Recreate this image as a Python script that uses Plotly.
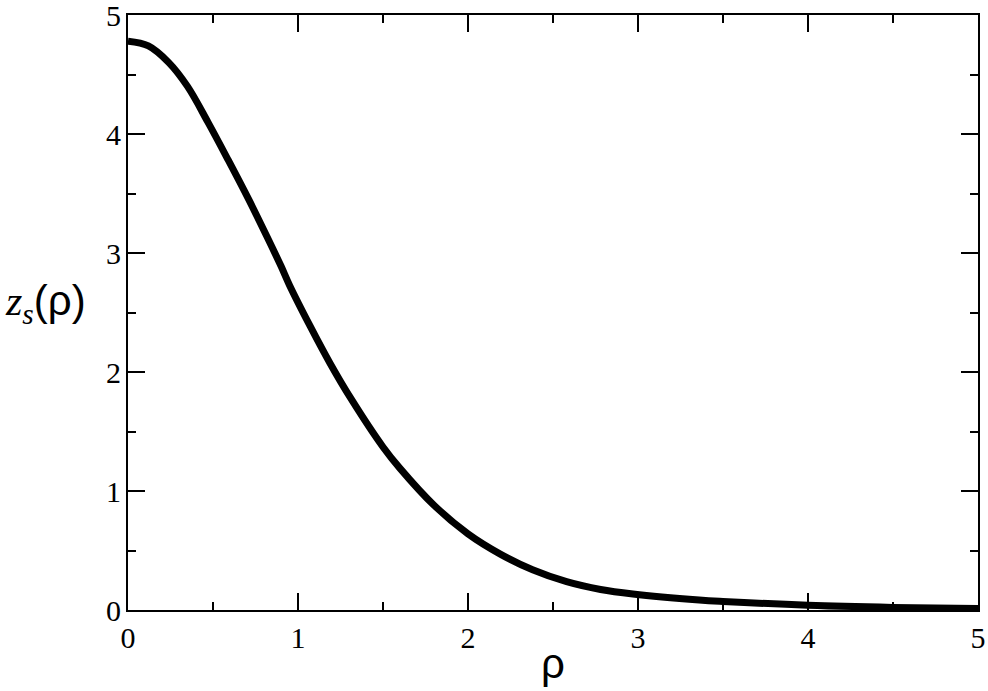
import plotly.graph_objects as go

# values
rho = [0.0, 0.12, 0.24, 0.35, 0.47, 0.59, 0.71, 0.82, 0.9, 0.95, 1.07, 1.19, 1.31, 1.5,
       1.6, 1.8, 2.0, 2.19, 2.38, 2.58, 2.78, 2.97, 3.36, 3.5, 4.0, 4.5, 5.0]
z_s = [4.78, 4.74, 4.60, 4.40, 4.10, 3.78, 3.45, 3.13, 2.89, 2.73, 2.39, 2.07, 1.78, 1.37,
       1.19, 0.88, 0.64, 0.47, 0.338, 0.238, 0.172, 0.134, 0.084, 0.072, 0.04, 0.022, 0.012]

x_ticks = [0, 1, 2, 3, 4, 5]
y_ticks = [0, 1, 2, 3, 4, 5]

fig = go.Figure()
fig.add_trace(go.Scatter(
    x=rho, y=z_s, mode='lines',
    line=dict(color='black', width=7, shape='spline', smoothing=1.0),
    showlegend=False, hoverinfo='skip'
))

tick_font = dict(family='Liberation Serif, Times New Roman, serif', size=30, color='black')
axis_common = dict(
    showline=True, linecolor='black', linewidth=2, mirror='allticks',
    ticks='inside', ticklen=17, tickwidth=1.5, tickcolor='black',
    showgrid=False, zeroline=False, tickfont=tick_font, ticklabeloverflow='allow',
    automargin=False,
    minor=dict(ticks='inside', ticklen=8, tickwidth=1.5, tickcolor='black', dtick=0.5, showgrid=False),
)

fig.update_layout(
    width=988, height=691,
    margin=dict(l=128, r=10, t=15, b=81),
    paper_bgcolor='white', plot_bgcolor='white',
    xaxis=dict(range=[0, 5], tickvals=x_ticks, ticklabelstandoff=0, **axis_common),
    yaxis=dict(range=[0, 5], tickvals=y_ticks, ticklabelstandoff=-1, **axis_common),
    annotations=[
        dict(text='ρ', x=0.5, y=-0.09, xref='paper', yref='paper', xanchor='center', yanchor='middle',
             showarrow=False, font=dict(family='Liberation Sans, Arial, sans-serif', size=42, color='black')),
        dict(text='<span style="font-family:Liberation Serif"><i>z<sub>s</sub></i></span>(ρ)',
             x=-0.147, y=0.515, xref='paper', yref='paper', xanchor='left', yanchor='middle',
             showarrow=False, font=dict(family='Liberation Sans, Arial, sans-serif', size=42, color='black')),
    ],
)

# the page body has a default 8px margin; drop it so the figure sits at the corner
fig.write_html("out.html", config={'displayModeBar': False},
               post_script="document.body.style.margin='0';")
